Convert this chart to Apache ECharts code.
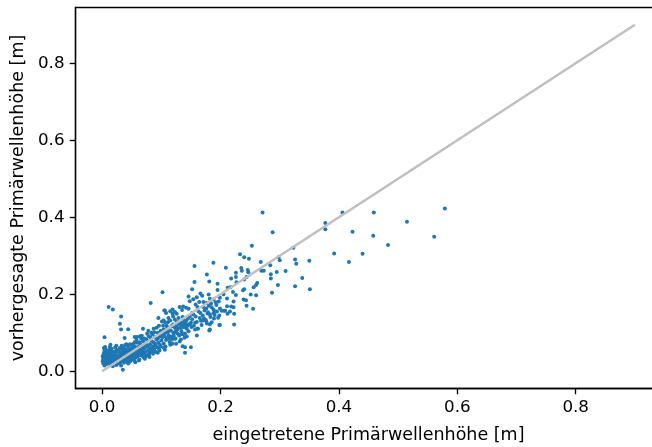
<!DOCTYPE html>
<html>
<head>
<meta charset="utf-8">
<script src="https://cdn.jsdelivr.net/npm/echarts@6/dist/echarts.min.js"></script>
<style>html,body{margin:0;padding:0;background:#fff}#c{width:652px;height:447px}</style>
</head>
<body>
<div id="c"></div>
<script>
const denseCluster = [
[0.002,0.020],[0.003,0.028],[0.004,0.035],[0.002,0.042],[0.005,0.048],[0.003,0.024],[0.006,0.031],[0.001,0.038],[0.007,0.022],[0.004,0.053],
[0.008,0.027],[0.006,0.040],[0.009,0.034],[0.002,0.031],[0.005,0.018],[0.008,0.045],[0.010,0.025],[0.003,0.060],[0.007,0.036],[0.009,0.019],
[0.001,0.026],[0.006,0.057],[0.004,0.015],[0.010,0.041],[0.003,0.047],[0.004,0.088],
[0.011,0.021],[0.012,0.030],[0.013,0.038],[0.014,0.026],[0.015,0.044],[0.016,0.033],[0.017,0.020],[0.018,0.029],[0.019,0.050],[0.012,0.055],
[0.014,0.017],[0.016,0.024],[0.018,0.036],[0.013,0.047],[0.020,0.027],[0.011,0.034],[0.015,0.052],[0.017,0.041],[0.019,0.022],[0.020,0.039],
[0.013,0.063],[0.016,0.058],[0.018,0.013],[0.012,0.042],
[0.021,0.033],[0.022,0.024],[0.023,0.045],[0.024,0.030],[0.025,0.019],[0.026,0.038],[0.027,0.052],[0.028,0.027],[0.029,0.042],[0.030,0.022],
[0.031,0.035],[0.032,0.058],[0.033,0.029],[0.034,0.046],[0.022,0.061],[0.024,0.016],[0.026,0.026],[0.028,0.034],[0.030,0.049],[0.032,0.025],
[0.034,0.037],[0.023,0.039],[0.025,0.055],[0.027,0.031],[0.029,0.020],[0.031,0.043],[0.033,0.066],[0.035,0.031],[0.021,0.050],[0.035,0.053],
[0.036,0.026],[0.037,0.040],[0.038,0.048],[0.039,0.033],[0.040,0.057],[0.041,0.029],[0.042,0.043],[0.043,0.036],[0.044,0.064],[0.045,0.030],
[0.046,0.051],[0.047,0.039],[0.048,0.027],[0.049,0.045],[0.050,0.060],[0.037,0.022],[0.039,0.068],[0.041,0.052],[0.043,0.025],[0.045,0.041],
[0.047,0.070],[0.049,0.034],[0.038,0.036],[0.040,0.044],[0.042,0.032],[0.044,0.049],[0.046,0.024],[0.048,0.055],[0.050,0.038],[0.036,0.062],
[0.051,0.032],[0.052,0.047],[0.053,0.056],[0.054,0.040],[0.055,0.065],[0.056,0.035],[0.057,0.050],[0.058,0.043],[0.059,0.074],[0.060,0.038],
[0.061,0.058],[0.062,0.046],[0.063,0.030],[0.064,0.053],[0.065,0.069],[0.066,0.041],[0.067,0.061],[0.068,0.049],[0.069,0.078],[0.070,0.036],
[0.052,0.070],[0.054,0.028],[0.056,0.060],[0.058,0.081],[0.060,0.052],[0.062,0.064],[0.064,0.044],[0.066,0.085],[0.068,0.057],[0.070,0.066],
[0.053,0.044],[0.057,0.036],[0.061,0.041],[0.065,0.048],[0.069,0.052],
[0.071,0.045],[0.072,0.059],[0.073,0.072],[0.074,0.050],[0.075,0.083],[0.076,0.040],[0.077,0.064],[0.078,0.055],[0.079,0.091],[0.080,0.047],
[0.081,0.070],[0.082,0.060],[0.083,0.079],[0.084,0.052],[0.085,0.096],[0.086,0.065],[0.087,0.075],[0.088,0.056],[0.089,0.088],[0.090,0.070],
[0.091,0.050],[0.092,0.082],[0.093,0.062],[0.094,0.100],[0.095,0.074],[0.096,0.058],[0.097,0.090],[0.098,0.068],[0.099,0.105],[0.100,0.080],
[0.073,0.038],[0.076,0.097],[0.079,0.043],[0.082,0.087],[0.085,0.058],[0.088,0.101],[0.091,0.063],[0.094,0.085],[0.097,0.054],[0.100,0.095],
[0.005,0.063],[0.008,0.052],[0.014,0.069],[0.024,0.066],[0.030,0.060],[0.041,0.070],[0.045,0.056],[0.050,0.069],[0.055,0.075],[0.059,0.089],
[0.063,0.075],[0.067,0.092],[0.071,0.085],[0.075,0.068],[0.078,0.105],[0.083,0.100],[0.087,0.110],[0.092,0.113],[0.096,0.118],[0.099,0.064],
[0.062,0.028],[0.044,0.020],[0.056,0.023],[0.032,0.015],[0.072,0.032],[0.080,0.037],[0.086,0.045],[0.094,0.048]
];
const midBand = [
[0.102,0.088],[0.104,0.072],[0.106,0.099],[0.108,0.081],[0.110,0.112],[0.112,0.094],[0.114,0.076],[0.116,0.106],[0.118,0.089],[0.120,0.121],
[0.122,0.101],[0.124,0.085],[0.126,0.128],[0.128,0.111],[0.130,0.093],[0.132,0.120],[0.134,0.104],[0.136,0.141],[0.138,0.114],[0.140,0.098],
[0.142,0.131],[0.144,0.118],[0.146,0.104],[0.148,0.143],[0.150,0.126],[0.103,0.118],[0.107,0.064],[0.111,0.127],[0.115,0.090],[0.119,0.071],
[0.123,0.113],[0.127,0.098],[0.131,0.077],[0.135,0.126],[0.139,0.087],[0.143,0.110],[0.147,0.122],[0.105,0.092],[0.109,0.102],[0.113,0.085],
[0.117,0.117],[0.121,0.092],[0.125,0.106],[0.129,0.124],[0.133,0.112],[0.137,0.096],[0.141,0.121],[0.145,0.136],
[0.152,0.135],[0.155,0.118],[0.158,0.142],[0.160,0.128],[0.163,0.155],[0.165,0.138],[0.168,0.120],[0.170,0.145],[0.173,0.158],[0.175,0.133],
[0.178,0.150],[0.180,0.170],[0.183,0.141],[0.185,0.127],[0.188,0.160],[0.190,0.146],[0.193,0.172],[0.196,0.139],[0.199,0.163],[0.157,0.126],
[0.162,0.110],[0.167,0.131],[0.172,0.137],[0.177,0.124],[0.184,0.176],[0.189,0.137],[0.194,0.155],[0.198,0.145],
[0.102,0.205],[0.166,0.202],[0.169,0.196],[0.154,0.187],[0.160,0.192],[0.148,0.182],[0.146,0.194],[0.164,0.180],[0.180,0.199],[0.182,0.188],
[0.188,0.186],[0.171,0.180],[0.176,0.177],[0.192,0.179],[0.197,0.181],[0.158,0.173],[0.161,0.167],[0.171,0.167],[0.176,0.163],[0.185,0.166],
[0.142,0.165],[0.146,0.162],[0.135,0.159],[0.137,0.168],[0.131,0.167],[0.106,0.158],[0.108,0.151],[0.115,0.156],[0.119,0.149],[0.123,0.154],
[0.126,0.149],[0.152,0.151],[0.154,0.147],[0.166,0.151],[0.179,0.153],[0.182,0.147],[0.188,0.151],[0.191,0.155],[0.202,0.157],[0.208,0.157],
[0.212,0.149],[0.170,0.132],[0.176,0.130],[0.182,0.122],[0.198,0.120],[0.182,0.108],[0.157,0.108],[0.161,0.111],[0.148,0.121],[0.151,0.115],
[0.139,0.132],[0.141,0.125],[0.136,0.121],[0.129,0.138],[0.132,0.129],[0.120,0.142],[0.123,0.134],[0.112,0.138],[0.115,0.132],[0.104,0.132],
[0.106,0.127],[0.109,0.118],[0.118,0.117],[0.126,0.117],[0.127,0.108],[0.104,0.108],[0.112,0.104],[0.120,0.099],[0.132,0.095],[0.103,0.091],
[0.109,0.086],[0.118,0.082],[0.123,0.084],[0.133,0.082],[0.115,0.069],[0.125,0.071],[0.136,0.065],[0.140,0.062],[0.104,0.061],[0.106,0.056],
[0.011,0.167],[0.018,0.160],[0.082,0.177],[0.032,0.142],[0.030,0.123],[0.032,0.108],[0.044,0.109],[0.038,0.086],[0.035,0.004],[0.069,0.110],
[0.055,0.089],[0.064,0.091],[0.095,0.138],[0.101,0.129],[0.105,0.158],[0.119,0.160],[0.140,0.048],[0.150,0.062],[0.143,0.090],[0.160,0.093]
];
const sparsePoints = [
[0.406,0.412],[0.459,0.412],[0.515,0.388],[0.579,0.423],[0.423,0.362],[0.458,0.352],[0.561,0.349],[0.483,0.328],[0.392,0.306],[0.440,0.305],
[0.417,0.284],[0.271,0.412],[0.377,0.385],[0.377,0.369],[0.288,0.361],[0.253,0.326],[0.323,0.321],[0.233,0.304],[0.240,0.296],[0.248,0.292],
[0.298,0.296],[0.300,0.288],[0.326,0.290],[0.328,0.279],[0.350,0.287],[0.268,0.284],[0.188,0.282],[0.156,0.273],[0.209,0.269],[0.284,0.275],
[0.235,0.268],[0.236,0.261],[0.246,0.263],[0.247,0.257],[0.226,0.256],[0.177,0.251],[0.295,0.258],[0.310,0.260],[0.269,0.261],[0.273,0.261],
[0.285,0.252],[0.285,0.241],[0.218,0.241],[0.226,0.245],[0.244,0.245],[0.240,0.238],[0.156,0.232],[0.181,0.233],[0.338,0.242],[0.262,0.229],
[0.260,0.224],[0.256,0.218],[0.297,0.224],[0.326,0.221],[0.351,0.213],[0.287,0.204],[0.152,0.213],[0.195,0.211],[0.217,0.218],[0.221,0.206],
[0.240,0.213],[0.238,0.210],[0.251,0.199],[0.260,0.197],[0.226,0.198],[0.239,0.186],[0.243,0.184],[0.211,0.189],[0.222,0.181],[0.199,0.191],
[0.244,0.170],[0.255,0.162],[0.211,0.169],[0.218,0.168],[0.222,0.166],[0.216,0.155],[0.223,0.149],[0.206,0.157],[0.223,0.121],[0.199,0.120],
[0.181,0.106],[0.195,0.227],[0.227,0.231],[0.212,0.217],[0.205,0.200]
];
const refLine = [[0, 0], [0.9, 0.9]];
const xTicks = [0, 0.2, 0.4, 0.6, 0.8];
const yTicks = [0, 0.2, 0.4, 0.6, 0.8];
const xTitle = 'eingetretene Primärwellenhöhe [m]';
const yTitle = 'vorhergesagte Primärwellenhöhe [m]';

const FONT = 'DejaVu Sans';
const FS = 16.7;
const chart = echarts.init(document.getElementById('c'), null, {renderer: 'canvas'});
function axisCommon(ticks) {
  return {
    type: 'value', min: -0.045, max: 0.945,
    splitLine: {show: false},
    axisLine: {show: true, onZero: false, lineStyle: {color: '#000', width: 1.33}},
    axisTick: {show: true, customValues: ticks, length: 5.8, lineStyle: {color: '#000', width: 1.33}},
    axisLabel: {customValues: ticks, margin: 11, color: '#000', fontFamily: FONT, fontSize: FS,
      formatter: v => v.toFixed(1)},
    nameLocation: 'middle',
    nameTextStyle: {color: '#000', fontFamily: FONT, fontSize: 17.5}
  };
}
const xAxis = Object.assign(axisCommon(xTicks), {name: xTitle, nameGap: 38});
const yAxis = Object.assign(axisCommon(yTicks), {name: yTitle, nameGap: 48});
const scatterStyle = {color: '#1f77b4', opacity: 1};
chart.setOption({
  animation: false,
  backgroundColor: '#fff',
  grid: {left: 75.5, top: 7.5, width: 586, height: 381, show: true, borderColor: '#000', borderWidth: 1.33,
    backgroundColor: 'transparent', containLabel: false, outerBoundsMode: 'none'},
  xAxis: xAxis,
  yAxis: yAxis,
  series: [
    {type: 'scatter', data: denseCluster, symbolSize: 4, itemStyle: scatterStyle, silent: true},
    {type: 'scatter', data: midBand, symbolSize: 4, itemStyle: scatterStyle, silent: true},
    {type: 'scatter', data: sparsePoints, symbolSize: 4, itemStyle: scatterStyle, silent: true},
    {type: 'line', data: refLine, symbol: 'none', lineStyle: {color: '#bfbfbf', width: 2.5}, silent: true, z: 3}
  ]
});
</script>
</body>
</html>
